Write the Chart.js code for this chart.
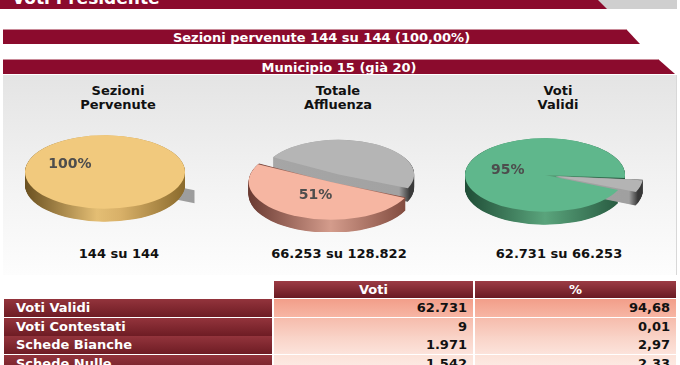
<!DOCTYPE html>
<html>
<head>
  <script src="https://cdn.jsdelivr.net/npm/chart.js"></script>
  <style>
    body {
      margin: 0;
      width: 680px;
      height: 365px;
      overflow: hidden;
      position: relative;
      background: #fff;
      font-family: "DejaVu Sans", Verdana, sans-serif;
      font-weight: bold;
      font-size: 13px;
    }
    .abs { position: absolute; }
    .band {
      position: absolute;
      left: 3px;
      height: 15px;
      line-height: 15px;
      background: #8b0b2d;
      color: #fff;
      text-align: center;
      border-top: 1px solid #c98a98;
      box-sizing: border-box;
    }
    .ttl { position: absolute; width: 200px; text-align: center; line-height: 14px; color: #111; }
    .cell { position: absolute; height: 18px; line-height: 18px; box-sizing: border-box; }
    .lab { color: #fff; padding-left: 12px; background: linear-gradient(#93343c, #6e1c24); }
    .hd { color: #fff; text-align: center; height: 17px; line-height: 17px; background: linear-gradient(#9c3c45, #6a1a22); }
    .val { color: #111; text-align: right; padding-right: 6px; }
    canvas { position: absolute; }
  </style>
</head>
<body>
  <!-- header strips -->
  <div class="abs" style="left:590px;top:0;width:87px;height:9px;background:#cfcfcf"></div>
  <div class="abs" style="left:0;top:0;width:607px;height:9px;overflow:hidden;background:#8b0b2d;clip-path:polygon(0 0,598px 0,607px 9px,0 9px)">
    <span class="abs" style="left:12px;top:-10px;font-size:17px;line-height:17px;color:#fff;white-space:nowrap">Voti Presidente</span>
  </div>
  <div class="band" id="band1" style="top:29px;width:637px;clip-path:polygon(0 0,623px 0,637px 15px,0 15px)"></div>
  <div class="band" style="top:59px;width:672px;clip-path:polygon(0 0,655px 0,672px 15px,0 15px)">Municipio 15 (già 20)</div>

  <!-- panel behind the pies -->
  <div class="abs" style="left:3px;top:75px;width:673px;height:200px;background:linear-gradient(#e4e4e4,#f4f4f4 60%,#fdfdfd);border-right:1px solid #d8d8d8"></div>

  <div id="titles"></div>
  <canvas id="pie1" width="200" height="110" style="left:5px;top:117px"></canvas>
  <canvas id="pie2" width="200" height="110" style="left:236px;top:122px"></canvas>
  <canvas id="pie3" width="200" height="110" style="left:445px;top:120px"></canvas>

  <div id="table"></div>

  <script>
    // pie data
    var sezioniPervenute = [144, 0];          // pervenute, mancanti
    var affluenza = [66253, 62569];           // votanti, non votanti (su 128.822)
    var votiValidi = [62731, 3522];           // validi, altri (su 66.253)
    var pieTitles = [['Sezioni', 'Pervenute'], ['Totale', 'Affluenza'], ['Voti', 'Validi']];

    // table data
    var rowLabels = ['Voti Validi', 'Voti Contestati', 'Schede Bianche', 'Schede Nulle'];
    var rowVoti = [62731, 9, 1971, 1542];
    var rowPerc = [94.68, 0.01, 2.97, 2.33];
    var colHeaders = ['Voti', '%'];

    function fmtInt(n) {
      return String(n).replace(/\B(?=(\d{3})+(?!\d))/g, '.');
    }
    function fmtPct(n) {
      return n.toFixed(2).replace('.', ',');
    }
    function sum(a) {
      return a.reduce(function (s, v) { return s + v; }, 0);
    }

    document.getElementById('band1').textContent =
      'Sezioni pervenute ' + fmtInt(sezioniPervenute[0]) + ' su ' + fmtInt(sum(sezioniPervenute)) +
      ' (' + fmtPct(sezioniPervenute[0] / sum(sezioniPervenute) * 100) + '%)';

    // titles and "x su y" captions
    var allPies = [sezioniPervenute, affluenza, votiValidi];
    var colCenters = [118, 338, 558];
    var html = '';
    allPies.forEach(function (vals, i) {
      html += '<div class="ttl" style="left:' + (colCenters[i] - 100) + 'px;top:84px">' +
        pieTitles[i][0] + '<br>' + pieTitles[i][1] + '</div>';
      html += '<div class="ttl" style="left:' + (colCenters[i] - 99) + 'px;top:247px">' +
        fmtInt(vals[0]) + ' su ' + fmtInt(sum(vals)) + '</div>';
    });
    document.getElementById('titles').innerHTML = html;

    // fake 3D: squash the pie and stack darker copies under it
    function pie3d(sides, depth, tilt) {
      function geom(a) {
        var off = (a.options.offset || 0) / 4;
        var mid = (a.startAngle + a.endAngle) / 2;
        var fix = 1 - Math.sin(Math.min(Math.PI, a.circumference || 0));
        return {
          x: a.x + Math.cos(mid) * off,
          y: a.y + Math.sin(mid) * off,
          r: a.outerRadius + off * fix,
          mid: mid,
          off: off
        };
      }
      return {
        id: 'pie3d',
        beforeDatasetsDraw: function (chart) {
          var ctx = chart.ctx;
          var arcs = chart.getDatasetMeta(0).data;
          var cx = arcs[0].x, cy = arcs[0].y;
          ctx.save();
          ctx.translate(cx, cy);
          ctx.scale(1, tilt);
          ctx.translate(-cx, -cy);
          var dz = depth / tilt;
          var order = arcs.map(function (a, i) { return i; });
          order.sort(function (i, j) {
            var a = arcs[i], b = arcs[j];
            var za = a.circumference === 0 ? -9 : Math.sin((a.startAngle + a.endAngle) / 2);
            var zb = b.circumference === 0 ? -9 : Math.sin((b.startAngle + b.endAngle) / 2);
            return za - zb;
          });
          order.forEach(function (i) {
            var a = arcs[i];
            var g = geom(a);
            var grad = ctx.createLinearGradient(g.x - g.r, 0, g.x + g.r, 0);
            sides[i].forEach(function (s) { grad.addColorStop(s[0], s[1]); });
            ctx.fillStyle = grad;
            if (a.circumference === 0) {
              var ex = g.x + Math.cos(a.startAngle) * g.r;
              var ey = g.y + Math.sin(a.startAngle) * g.r;
              ctx.beginPath();
              ctx.moveTo(g.x, g.y);
              ctx.lineTo(ex, ey);
              ctx.lineTo(ex, ey + dz);
              ctx.lineTo(g.x, g.y + dz);
              ctx.closePath();
              ctx.fill();
              return;
            }
            for (var d = dz; d > 0; d -= 0.5 / tilt) {
              ctx.beginPath();
              ctx.moveTo(g.x, g.y + d);
              ctx.arc(g.x, g.y + d, g.r, a.startAngle, a.endAngle);
              ctx.closePath();
              ctx.fill();
            }
          });
        },
        afterDatasetsDraw: function (chart) {
          var ctx = chart.ctx;
          ctx.restore();
          var a = chart.getDatasetMeta(0).data[0];
          var vals = chart.data.datasets[0].data;
          var g = geom(a);
          var dist = a.outerRadius * 0.48 + g.off;
          var lx = a.x + Math.cos(g.mid) * dist;
          var ly = a.y + Math.sin(g.mid) * dist * tilt;
          ctx.save();
          ctx.font = 'bold 14px "DejaVu Sans", Verdana, sans-serif';
          ctx.fillStyle = '#4d4d4d';
          ctx.textAlign = 'center';
          ctx.textBaseline = 'middle';
          ctx.fillText(Math.round(vals[0] / sum(vals) * 100) + '%', lx, ly);
          ctx.restore();
        }
      };
    }

    function makePie(id, values, tops, sides, offsets, radius) {
      new Chart(document.getElementById(id), {
        type: 'pie',
        data: {
          labels: ['a', 'b'],
          datasets: [{
            data: values,
            backgroundColor: tops,
            borderWidth: 0,
            offset: offsets,
            clip: false
          }]
        },
        options: {
          responsive: false,
          animation: false,
          events: [],
          rotation: 114,
          radius: radius,
          plugins: {
            legend: { display: false },
            tooltip: { enabled: false }
          }
        },
        plugins: [pie3d(sides, 13, 0.46)]
      });
    }

    makePie('pie1', sezioniPervenute, ['#f1c97d', '#b2b2b2'],
      [[[0, '#6a5020'], [0.45, '#e4be74'], [0.6, '#d8b068'], [1, '#8a6a2c']],
       [[0, '#a8a8a8'], [1, '#9c9c9c']]],
      [0, 36], 80);

    makePie('pie2', affluenza, ['#f6b6a2', '#b5b5b5'],
      [[[0, '#6a3a32'], [0.5, '#d49c8c'], [1, '#7a4438']],
       [[0, '#a6a6a6'], [0.9, '#a2a2a2'], [0.97, '#3a3a3a']]],
      [48, 24], 70);

    makePie('pie3', votiValidi, ['#5fb78c', '#b4b4b4'],
      [[[0, '#1f4d36'], [0.5, '#5aa47c'], [1, '#24553c']],
       [[0, '#a4a4a4'], [0.92, '#a0a0a0'], [0.97, '#383838']]],
      [0, 44], 80);

    // results table
    var t = '';
    t += '<div class="cell hd" style="left:274px;top:281px;width:199px">' + colHeaders[0] + '</div>';
    t += '<div class="cell hd" style="left:475px;top:281px;width:201px">' + colHeaders[1] + '</div>';
    var rowBg = [
      'linear-gradient(#f29e89,#f7b6a4)',
      'linear-gradient(#f6bcac,#f9d1c5)',
      'linear-gradient(#f9d2c6,#fce3db)',
      'linear-gradient(#fce2d9,#fdefe9)'
    ];
    rowLabels.forEach(function (lab, i) {
      var top = 299 + i * 19 - (i > 1 ? 1 : 0);
      t += '<div class="cell lab" style="left:4px;top:' + top + 'px;width:268px">' + lab + '</div>';
      t += '<div class="cell val" style="left:274px;top:' + top + 'px;width:199px;background:' + rowBg[i] + '">' + fmtInt(rowVoti[i]) + '</div>';
      t += '<div class="cell val" style="left:475px;top:' + top + 'px;width:201px;background:' + rowBg[i] + '">' + fmtPct(rowPerc[i]) + '</div>';
    });
    document.getElementById('table').innerHTML = t;
  </script>
</body>
</html>
